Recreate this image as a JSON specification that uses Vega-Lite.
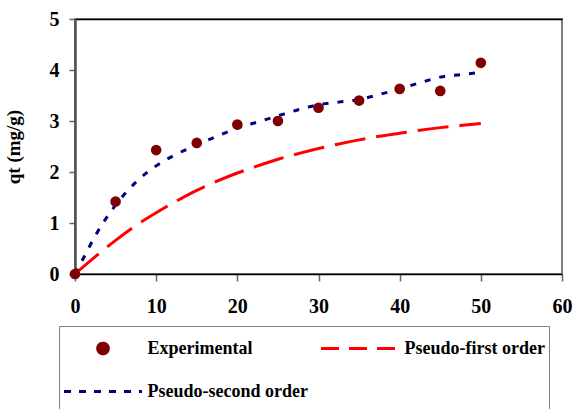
{
  "$schema": "https://vega.github.io/schema/vega-lite/v6.json",
  "autosize": "none",
  "width": 487,
  "height": 255,
  "padding": {"left": 75, "top": 19, "right": 13, "bottom": 135},
  "background": "white",
  "config": {
    "view": {"stroke": "#808080", "strokeWidth": 2},
    "axis": {
      "labelFont": "Liberation Serif",
      "labelFontSize": 20,
      "labelFontWeight": "bold",
      "labelColor": "black",
      "labelFlush": false,
      "titleFont": "Liberation Serif",
      "titleFontSize": 19,
      "titleFontWeight": "bold",
      "titleColor": "black",
      "grid": false,
      "tickColor": "#666666",
      "tickWidth": 1.5
    }
  },
  "datasets": {
    "kin": [
      {"t": 0, "q": 0, "series": "Experimental"},
      {"t": 5, "q": 1.42, "series": "Experimental"},
      {"t": 10, "q": 2.43, "series": "Experimental"},
      {"t": 15, "q": 2.57, "series": "Experimental"},
      {"t": 20, "q": 2.93, "series": "Experimental"},
      {"t": 25, "q": 3.0, "series": "Experimental"},
      {"t": 30, "q": 3.26, "series": "Experimental"},
      {"t": 35, "q": 3.4, "series": "Experimental"},
      {"t": 40, "q": 3.63, "series": "Experimental"},
      {"t": 45, "q": 3.59, "series": "Experimental"},
      {"t": 50, "q": 4.14, "series": "Experimental"},
      {"t": 0, "q": 0, "series": "Pseudo-first order"},
      {"t": 2.5, "q": 0.34, "series": "Pseudo-first order"},
      {"t": 5, "q": 0.66, "series": "Pseudo-first order"},
      {"t": 7.5, "q": 0.95, "series": "Pseudo-first order"},
      {"t": 10, "q": 1.2, "series": "Pseudo-first order"},
      {"t": 12.5, "q": 1.43, "series": "Pseudo-first order"},
      {"t": 15, "q": 1.64, "series": "Pseudo-first order"},
      {"t": 17.5, "q": 1.82, "series": "Pseudo-first order"},
      {"t": 20, "q": 1.98, "series": "Pseudo-first order"},
      {"t": 22.5, "q": 2.12, "series": "Pseudo-first order"},
      {"t": 25, "q": 2.25, "series": "Pseudo-first order"},
      {"t": 27.5, "q": 2.36, "series": "Pseudo-first order"},
      {"t": 30, "q": 2.46, "series": "Pseudo-first order"},
      {"t": 32.5, "q": 2.55, "series": "Pseudo-first order"},
      {"t": 35, "q": 2.63, "series": "Pseudo-first order"},
      {"t": 37.5, "q": 2.7, "series": "Pseudo-first order"},
      {"t": 40, "q": 2.76, "series": "Pseudo-first order"},
      {"t": 42.5, "q": 2.82, "series": "Pseudo-first order"},
      {"t": 45, "q": 2.87, "series": "Pseudo-first order"},
      {"t": 47.5, "q": 2.91, "series": "Pseudo-first order"},
      {"t": 50, "q": 2.95, "series": "Pseudo-first order"},
      {"t": 0, "q": 0, "series": "Pseudo-second order"},
      {"t": 1, "q": 0.3, "series": "Pseudo-second order"},
      {"t": 2.5, "q": 0.75, "series": "Pseudo-second order"},
      {"t": 5, "q": 1.35, "series": "Pseudo-second order"},
      {"t": 7.5, "q": 1.8, "series": "Pseudo-second order"},
      {"t": 10, "q": 2.12, "series": "Pseudo-second order"},
      {"t": 12.5, "q": 2.35, "series": "Pseudo-second order"},
      {"t": 15, "q": 2.53, "series": "Pseudo-second order"},
      {"t": 17.5, "q": 2.7, "series": "Pseudo-second order"},
      {"t": 20, "q": 2.86, "series": "Pseudo-second order"},
      {"t": 22.5, "q": 2.98, "series": "Pseudo-second order"},
      {"t": 25, "q": 3.1, "series": "Pseudo-second order"},
      {"t": 27.5, "q": 3.22, "series": "Pseudo-second order"},
      {"t": 30, "q": 3.32, "series": "Pseudo-second order"},
      {"t": 32.5, "q": 3.37, "series": "Pseudo-second order"},
      {"t": 35, "q": 3.42, "series": "Pseudo-second order"},
      {"t": 37.5, "q": 3.52, "series": "Pseudo-second order"},
      {"t": 40, "q": 3.63, "series": "Pseudo-second order"},
      {"t": 42.5, "q": 3.75, "series": "Pseudo-second order"},
      {"t": 45, "q": 3.86, "series": "Pseudo-second order"},
      {"t": 47.5, "q": 3.91, "series": "Pseudo-second order"},
      {"t": 50, "q": 3.95, "series": "Pseudo-second order"}
    ]
  },
  "data": {"name": "kin"},
  "resolve": {"axis": {"x": "independent"}},
  "layer": [
    {
      "transform": [{"filter": "datum.series !== 'Experimental'"}],
      "mark": {"type": "line", "strokeWidth": 3, "interpolate": "monotone"},
      "encoding": {
        "x": {
          "field": "t", "type": "quantitative",
          "scale": {"domain": [0, 60], "nice": false},
          "axis": {"title": null, "orient": "top", "labels": false, "ticks": false, "domainColor": "black", "domainWidth": 1.5}
        },
        "y": {
          "field": "q", "type": "quantitative",
          "scale": {"domain": [0, 5], "nice": false},
          "axis": {
            "title": "qt (mg/g)", "values": [0, 1, 2, 3, 4, 5], "tickSize": 6, "labelPadding": 10,
            "titlePadding": 26, "domainColor": "#505050", "domainWidth": 2.5
          }
        },
        "color": {
          "field": "series", "type": "nominal",
          "scale": {"domain": ["Experimental", "Pseudo-second order", "Pseudo-first order"], "range": ["#800000", "#000080", "#FF0000"]},
          "legend": {
            "orient": "none",
            "legendX": -16,
            "legendY": 307,
            "title": null,
            "columns": 2,
            "gridAlign": "all",
            "symbolType": "stroke",
            "symbolSize": 6084,
            "symbolStrokeWidth": 3,
            "clipHeight": 38,
            "rowPadding": 5,
            "columnPadding": 11,
            "labelOffset": 4,
            "padding": 3.5,
            "strokeColor": "#808080",
            "fillColor": "white",
            "labelFont": "Liberation Serif",
            "labelFontSize": 18,
            "labelFontWeight": "bold",
            "labelColor": "black",
            "labelLimit": 400,
            "encode": {
              "symbols": {
                "update": {
                  "shape": {"signal": "datum.value === 'Experimental' ? 'circle' : 'stroke'"},
                  "size": {"signal": "datum.value === 'Experimental' ? 113 : 6084"},
                  "strokeDash": {"signal": "datum.value === 'Pseudo-first order' ? [18, 10] : datum.value === 'Pseudo-second order' ? [7, 8] : [1, 0]"},
                  "fill": {"signal": "datum.value === 'Experimental' ? '#800000' : 'transparent'"},
                  "stroke": {"signal": "datum.value === 'Experimental' ? 'transparent' : datum.value === 'Pseudo-first order' ? '#FF0000' : '#000080'"},
                  "strokeWidth": {"value": 3},
                  "opacity": {"value": 1}
                }
              }
            }
          }
        },
        "strokeDash": {
          "field": "series", "type": "nominal",
          "scale": {"domain": ["Pseudo-first order", "Pseudo-second order"], "range": [[31, 11], [6, 9]]},
          "legend": null
        }
      }
    },
    {
      "transform": [{"filter": "datum.series === 'Experimental'"}],
      "mark": {"type": "point", "filled": true, "shape": "circle", "size": 113, "opacity": 1},
      "encoding": {
        "x": {
          "field": "t", "type": "quantitative",
          "axis": {
            "title": null, "orient": "bottom", "values": [0, 10, 20, 30, 40, 50, 60], "tickSize": 7,
            "labelPadding": 15, "domainColor": "black", "domainWidth": 1.5
          }
        },
        "y": {"field": "q", "type": "quantitative"},
        "color": {"field": "series", "type": "nominal"}
      }
    }
  ]
}
